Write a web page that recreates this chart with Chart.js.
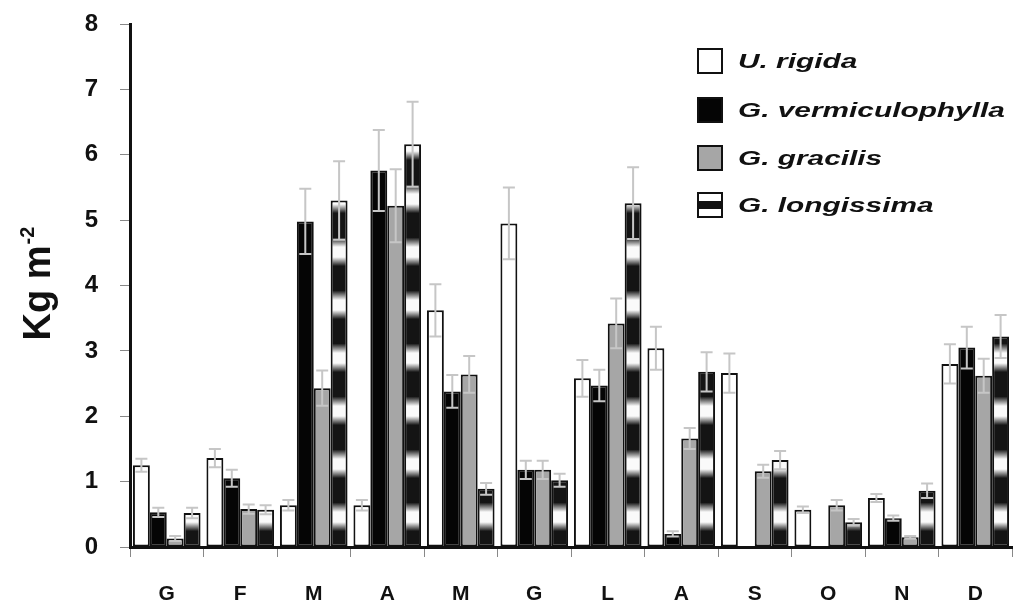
<!DOCTYPE html>
<html lang="en">
  <head>
    <meta charset="UTF-8" />
    <title>Kg m-2 by month</title>
    <style>
      body { margin: 0; background: #fff; }
      .chartBox { width: 1019px; height: 609px; }
    </style>
  </head>
  <body>
    <div class="chartBox">
      <canvas id="myChart"></canvas>
    </div>
    <script src="https://cdn.jsdelivr.net/npm/chart.js"></script>
    <script>
      const months = ["G", "F", "M", "A", "M", "G", "L", "A", "S", "O", "N", "D"];
      const yTicks = [0, 1, 2, 3, 4, 5, 6, 7, 8];
      const species = ["U. rigida", "G. vermiculophylla", "G. gracilis", "G. longissima"];

      const rigida = [1.25, 1.36, 0.64, 0.64, 3.62, 4.95, 2.58, 3.04, 2.66, 0.57, 0.75, 2.8];
      const vermiculophylla = [0.53, 1.05, 4.98, 5.76, 2.38, 1.18, 2.47, 0.2, null, null, 0.44, 3.05];
      const gracilis = [0.13, 0.58, 2.43, 5.22, 2.64, 1.18, 3.42, 1.66, 1.16, 0.64, 0.15, 2.62];
      const longissima = [0.52, 0.57, 5.3, 6.16, 0.89, 1.02, 5.26, 2.68, 1.33, 0.38, 0.86, 3.22];

      const rigidaErr = [0.1, 0.14, 0.08, 0.08, 0.4, 0.55, 0.28, 0.33, 0.3, 0.05, 0.06, 0.3];
      const vermiculophyllaErr = [0.07, 0.13, 0.5, 0.62, 0.25, 0.14, 0.24, 0.04, null, null, 0.04, 0.32];
      const gracilisErr = [0.04, 0.07, 0.27, 0.56, 0.28, 0.14, 0.38, 0.16, 0.1, 0.08, 0.02, 0.26];
      const longissimaErr = [0.08, 0.07, 0.6, 0.65, 0.09, 0.1, 0.55, 0.3, 0.14, 0.05, 0.11, 0.33];

      const errors = [rigidaErr, vermiculophyllaErr, gracilisErr, longissimaErr];
      const fontFamily = "'Liberation Sans', Arial, sans-serif";

      // black / white bands of the G. longissima bars, starting from the baseline
      function stripes(c) {
        const chart = c.chart;
        const area = chart.chartArea;
        if (!area) return "#111";
        const period = 53;
        const n = Math.ceil((area.bottom - area.top) / period) + 1;
        const g = chart.ctx.createLinearGradient(0, area.bottom, 0, area.bottom - n * period);
        const s = 1 / n;
        for (let k = 0; k < n; k++) {
          const f = k * s;
          g.addColorStop(f, "#141414");
          g.addColorStop(f + 0.3 * s, "#141414");
          g.addColorStop(f + 0.47 * s, "#fafafa");
          g.addColorStop(f + 0.66 * s, "#fafafa");
          g.addColorStop(f + 0.84 * s, "#141414");
        }
        g.addColorStop(1, "#141414");
        return g;
      }

      const errorBars = {
        id: "errorBars",
        afterDatasetsDraw(chart) {
          const ctx = chart.ctx;
          const y = chart.scales.y;
          ctx.save();
          ctx.strokeStyle = "#c6c6c6";
          ctx.lineWidth = 2;
          chart.data.datasets.forEach((ds, d) => {
            chart.getDatasetMeta(d).data.forEach((bar, i) => {
              const v = ds.data[i];
              const e = errors[d][i];
              if (v == null || e == null) return;
              const top = y.getPixelForValue(v + e);
              const bot = y.getPixelForValue(v - e);
              ctx.beginPath();
              ctx.moveTo(bar.x, top);
              ctx.lineTo(bar.x, bot);
              ctx.moveTo(bar.x - 6, top);
              ctx.lineTo(bar.x + 6, top);
              ctx.moveTo(bar.x - 6, bot);
              ctx.lineTo(bar.x + 6, bot);
              ctx.stroke();
            });
          });
          ctx.restore();
        },
      };

      const yTitle = {
        id: "yTitle",
        afterDraw(chart) {
          const ctx = chart.ctx;
          ctx.save();
          ctx.translate(50, 284);
          ctx.rotate(-Math.PI / 2);
          ctx.fillStyle = "#111";
          ctx.textBaseline = "alphabetic";
          ctx.font = "bold 38px " + fontFamily;
          const main = "Kg m";
          const w1 = ctx.measureText(main).width;
          ctx.font = "bold 20px " + fontFamily;
          const sup = "-2";
          const w2 = ctx.measureText(sup).width;
          const x0 = -(w1 + w2) / 2;
          ctx.font = "bold 38px " + fontFamily;
          ctx.fillText(main, x0, 0);
          ctx.font = "bold 20px " + fontFamily;
          ctx.fillText(sup, x0 + w1 + 1, -16);
          ctx.restore();
        },
      };

      const boxLegend = {
        id: "boxLegend",
        afterDraw(chart) {
          const ctx = chart.ctx;
          const rows = [61, 110, 158, 205];
          ctx.save();
          chart.data.datasets.forEach((ds, d) => {
            const cy = rows[d];
            const bx = 698, by = cy - 12, bw = 24, bh = 24;
            ctx.fillStyle = d === 3 ? "#fff" : ds.backgroundColor;
            ctx.fillRect(bx, by, bw, bh);
            if (d === 3) {
              ctx.fillStyle = "#111";
              ctx.fillRect(bx, cy - 4, bw, 8);
            }
            ctx.strokeStyle = "#111";
            ctx.lineWidth = 2;
            ctx.strokeRect(bx, by, bw, bh);
            // the legend lettering in the source is stretched sideways
            ctx.save();
            ctx.translate(738, cy + 1);
            ctx.scale(1.42, 1);
            ctx.fillStyle = "#111";
            ctx.font = "italic bold 21px " + fontFamily;
            ctx.textBaseline = "middle";
            ctx.fillText(ds.label, 0, 0);
            ctx.restore();
          });
          ctx.restore();
        },
      };

      const ctx = document.getElementById("myChart").getContext("2d");
      const myChart = new Chart(ctx, {
        type: "bar",
        data: {
          labels: months,
          datasets: [
            { label: species[0], data: rigida, backgroundColor: "#ffffff" },
            { label: species[1], data: vermiculophylla, backgroundColor: "#050505" },
            { label: species[2], data: gracilis, backgroundColor: "#a6a6a6" },
            { label: species[3], data: longissima, backgroundColor: stripes },
          ].map((ds) => ({
            ...ds,
            borderColor: "#111",
            borderWidth: 2,
            borderSkipped: false,
            barPercentage: 1,
            categoryPercentage: 0.92,
          })),
        },
        plugins: [errorBars, yTitle, boxLegend],
        options: {
          responsive: true,
          maintainAspectRatio: false,
          animation: false,
          layout: { padding: { top: 24, right: 7, left: 0, bottom: 0 } },
          plugins: {
            legend: { display: false },
            tooltip: { enabled: false },
          },
          scales: {
            x: {
              grid: { offset: true, drawOnChartArea: false, tickLength: 10, color: "#888" },
              border: { color: "#111", width: 3 },
              ticks: {
                color: "#111",
                padding: 25,
                font: { family: fontFamily, size: 21, weight: "bold" },
              },
              afterFit: (s) => { s.height = 62; },
            },
            y: {
              min: 0,
              max: 8,
              afterBuildTicks: (s) => { s.ticks = yTicks.map((v) => ({ value: v })); },
              grid: { drawOnChartArea: false, tickLength: 10, color: "#888" },
              border: { color: "#111", width: 3 },
              ticks: {
                color: "#111",
                padding: 22,
                font: { family: fontFamily, size: 24, weight: "bold" },
              },
              afterFit: (s) => {
                s.width = 130;
                s.paddingTop = 0;
                s.paddingBottom = 0;
              },
            },
          },
        },
      });
    </script>
  </body>
</html>
